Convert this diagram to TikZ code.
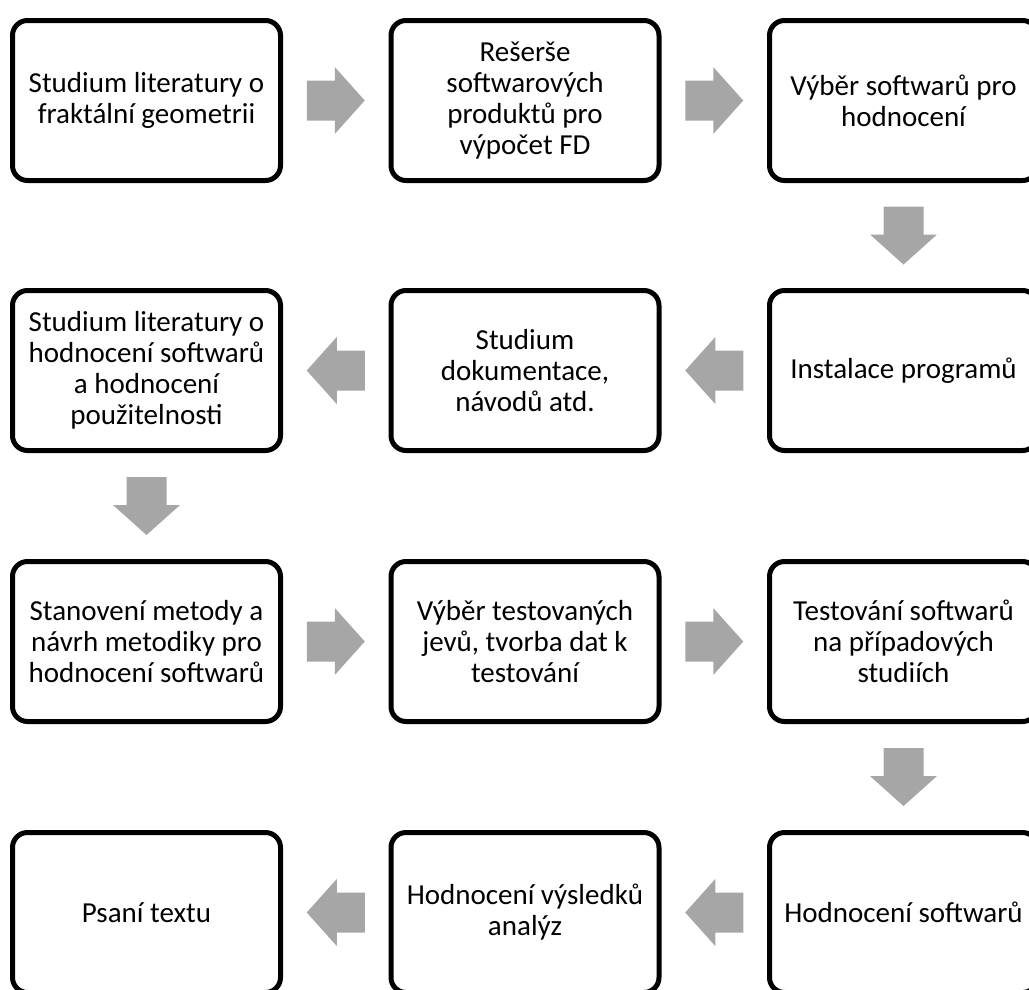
\documentclass[tikz,border=0pt]{standalone}
\usepackage{fontspec}
\setmainfont{Carlito}
\usetikzlibrary{calc}
\definecolor{arrowgray}{HTML}{A6A6A6}
\tikzset{
  box/.style={draw=black, line width=5pt, rounded corners=15pt, fill=white,
    minimum width=268pt, minimum height=160pt, inner sep=0pt,
    align=center, font=\fontsize{29}{31}\selectfont},
  blockarrow/.pic={
    \fill[arrowgray] (-29,-20) -- (-1,-20) -- (-1,-33.5) -- (29,0) -- (-1,33.5) -- (-1,20) -- (-29,20) -- cycle;
  }
}
\begin{document}
\begin{tikzpicture}[x=1pt,y=-1pt]
\useasboundingbox (0,0) rectangle (1029,989);
\clip (0,0) rectangle (1029,989);
% row 1
\node[box] (a1) at (146.5,100.5) {Studium literatury o\\fraktální geometrii};
\node[box] (a2) at (525,100.5) {Rešerše\\softwarových\\produktů pro\\výpočet FD};
\node[box] (a3) at (903.5,100.5) {Výběr softwarů pro\\hodnocení};
% row 2
\node[box] (b3) at (903.5,370.5) {Instalace programů};
\node[box] (b2) at (525,370.5) {Studium\\dokumentace,\\návodů atd.};
\node[box] (b1) at (146.5,370.5) {Studium literatury o\\hodnocení softwarů\\a hodnocení\\použitelnosti};
% row 3
\node[box] (c1) at (146.5,641.5) {Stanovení metody a\\návrh metodiky pro\\hodnocení softwarů};
\node[box] (c2) at (525,641.5) {Výběr testovaných\\jevů, tvorba dat k\\testování};
\node[box] (c3) at (903.5,641.5) {Testování softwarů\\na případových\\studiích};
% row 4
\node[box] (d3) at (903.5,912.5) {Hodnocení softwarů};
\node[box] (d2) at (525,912.5) {Hodnocení výsledků\\analýz};
\node[box] (d1) at (146.5,912.5) {Psaní textu};
% arrows
\path ($(a1.east)!0.5!(a2.west)$) pic {blockarrow};
\path ($(a2.east)!0.5!(a3.west)$) pic {blockarrow};
\path ($(a3.south)!0.5!(b3.north)$) pic[rotate=-90] {blockarrow};
\path ($(b3.west)!0.5!(b2.east)$) pic[rotate=180] {blockarrow};
\path ($(b2.west)!0.5!(b1.east)$) pic[rotate=180] {blockarrow};
\path ($(b1.south)!0.5!(c1.north)$) pic[rotate=-90] {blockarrow};
\path ($(c1.east)!0.5!(c2.west)$) pic {blockarrow};
\path ($(c2.east)!0.5!(c3.west)$) pic {blockarrow};
\path ($(c3.south)!0.5!(d3.north)$) pic[rotate=-90] {blockarrow};
\path ($(d3.west)!0.5!(d2.east)$) pic[rotate=180] {blockarrow};
\path ($(d2.west)!0.5!(d1.east)$) pic[rotate=180] {blockarrow};
\end{tikzpicture}
\end{document}
